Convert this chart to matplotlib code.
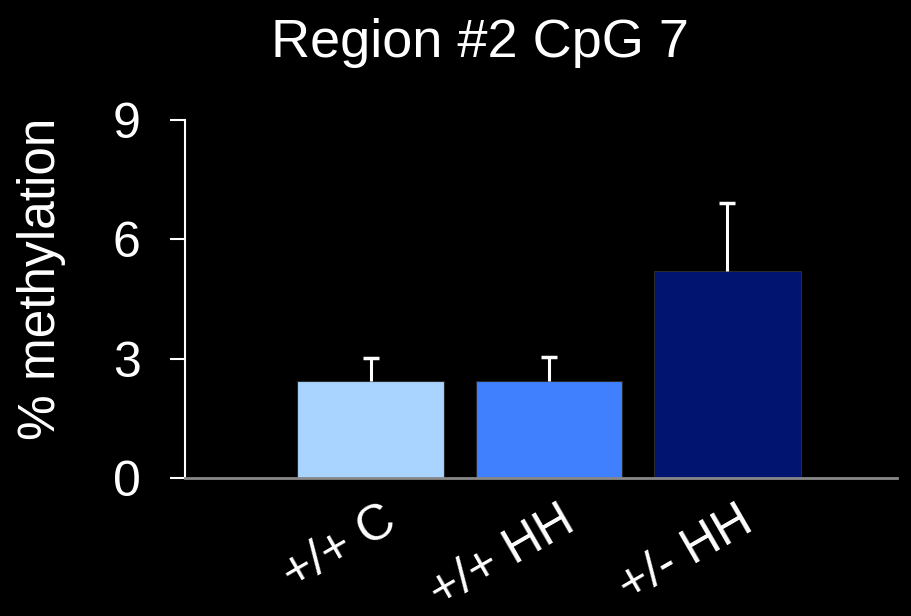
import matplotlib
matplotlib.use("Agg")
import matplotlib.pyplot as plt
from matplotlib.transforms import ScaledTranslation

plt.rcParams['font.family'] = ['Liberation Sans', 'DejaVu Sans']

groups = ["+/+ C", "+/+ HH", "+/- HH"]
methylation = [2.44, 2.44, 5.2]
sem = [0.58, 0.61, 1.71]
bar_colors = ["#a8d4ff", "#4080ff", "#001470"]
yticks = [0, 3, 6, 9]

fig = plt.figure(figsize=(9.11, 6.16), dpi=100, facecolor="black")
ax = fig.add_axes([185 / 911, 1 - 478 / 616, (897 - 185) / 911, (478 - 120) / 616])
ax.set_facecolor("black")

x = list(range(len(groups)))
tops = [m + s for m, s in zip(methylation, sem)]
ax.bar(x, methylation, width=0.82, color=bar_colors, edgecolor="#2a2a2a",
       linewidth=0.8, zorder=2)
# upper-only error bars: stem from bar top, cap at mean + SEM
ax.vlines(x, methylation, tops, color="white", linewidth=2.2, zorder=3)
ax.plot(x, tops, linestyle="none", marker="_", markersize=12,
        markeredgewidth=2.5, color="white", zorder=3)

ax.set_xlim(-1.04, 2.95)
ax.set_ylim(0, 9)
ax.set_yticks(yticks)
ax.set_yticklabels([str(t) for t in yticks], fontsize=36, color="white")
ax.tick_params(axis="y", colors="white", length=11, width=1.5, pad=21,
               labelcolor="white")
ax.set_xticks([])

for side in ("top", "right"):
    ax.spines[side].set_visible(False)
ax.spines["left"].set_color("white")
ax.spines["left"].set_linewidth(1.5)
ax.spines["bottom"].set_color("#888888")
ax.spines["bottom"].set_linewidth(2)

for xi, name in zip(x, groups):
    off = ScaledTranslation(28 / 100, -51 / 100, fig.dpi_scale_trans)
    ax.text(xi, 0, name, transform=ax.transData + off, rotation=30,
            rotation_mode="anchor", ha="right", va="baseline",
            fontsize=36, color="white")

ax.set_ylabel("% methylation", fontsize=37, color="white")
ax.yaxis.set_label_coords((66 - 185) / 712, (478 - 279) / 358)

fig.text(480 / 911, 1 - 57 / 616, "Region #2 CpG 7", fontsize=39,
         color="white", ha="center", va="baseline")

fig.savefig("out.png", dpi=100, facecolor="black")
